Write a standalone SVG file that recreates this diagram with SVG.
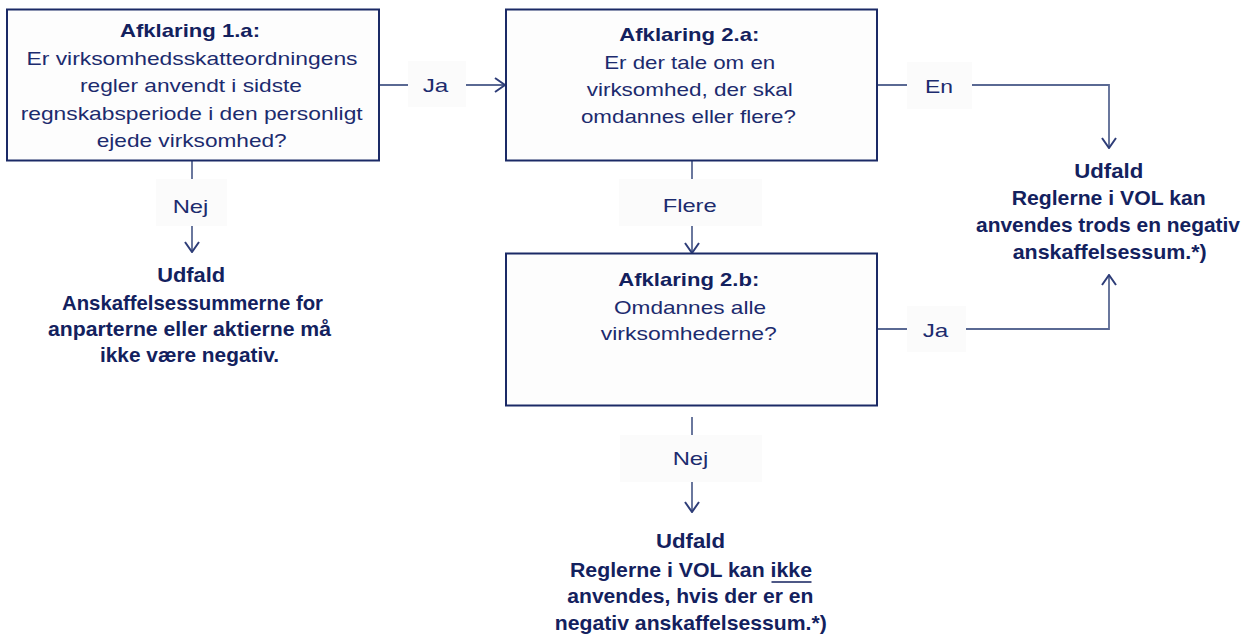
<svg xmlns="http://www.w3.org/2000/svg" width="1250" height="637" viewBox="0 0 1250 637">
  <style>
    .box { fill: #fdfdfd; stroke: #1b2a66; stroke-width: 2; }
    .lbl { fill: #fbfbfb; }
    .wire { fill: none; stroke: #5a6993; stroke-width: 1.8; }
    text { font-family: "Liberation Sans", Arial, sans-serif; text-anchor: middle; fill: #1c2b6e; }
    .t { font-size: 18.5px; }
    .h { font-size: 18.5px; font-weight: bold; fill: #13215e; }
    .o { font-size: 20.5px; font-weight: bold; fill: #13215e; }
  </style>
  <defs>
    <marker id="arr" viewBox="0 0 12 16" refX="11" refY="8" markerWidth="12" markerHeight="16" markerUnits="userSpaceOnUse" orient="auto">
      <path d="M1,1 L11,8 L1,15" fill="none" stroke="#2e3d78" stroke-width="2"/>
    </marker>
  </defs>
  <rect width="1250" height="637" fill="#ffffff"/>

  <!-- connectors with their labels -->
  <g id="connectors">
    <path class="wire" d="M379,85 H505" marker-end="url(#arr)"/>
    <path class="wire" d="M192,161 V252" marker-end="url(#arr)"/>
    <path class="wire" d="M692,161 V253" marker-end="url(#arr)"/>
    <path class="wire" d="M877,85 H1109 V148" marker-end="url(#arr)"/>
    <path class="wire" d="M877,329 H1109 V275" marker-end="url(#arr)"/>
    <path class="wire" d="M692,417 V512" marker-end="url(#arr)"/>

    <rect class="lbl" x="408" y="61" width="58" height="46"/>
    <text class="t" x="435.5" y="92" textLength="25.6" lengthAdjust="spacingAndGlyphs">Ja</text>
    <rect class="lbl" x="156" y="179" width="71" height="47"/>
    <text class="t" x="190.5" y="213" textLength="35.7" lengthAdjust="spacingAndGlyphs">Nej</text>
    <rect class="lbl" x="619" y="179" width="143" height="47"/>
    <text class="t" x="689.7" y="212" textLength="54" lengthAdjust="spacingAndGlyphs">Flere</text>
    <rect class="lbl" x="907" y="62" width="65" height="47"/>
    <text class="t" x="939" y="93" textLength="28" lengthAdjust="spacingAndGlyphs">En</text>
    <rect class="lbl" x="907" y="306" width="59" height="46"/>
    <text class="t" x="935.5" y="337" textLength="25.6" lengthAdjust="spacingAndGlyphs">Ja</text>
    <rect class="lbl" x="620" y="435" width="142" height="47"/>
    <text class="t" x="690.5" y="465" textLength="35.7" lengthAdjust="spacingAndGlyphs">Nej</text>
  </g>

  <!-- question 1.a -->
  <g id="afklaring-1a">
    <rect class="box" x="7" y="9.5" width="372" height="151"/>
    <text class="h" x="190" y="37" textLength="140" lengthAdjust="spacingAndGlyphs">Afklaring 1.a:</text>
    <text class="t" x="192" y="65" textLength="331" lengthAdjust="spacingAndGlyphs">Er virksomhedsskatteordningens</text>
    <text class="t" x="191" y="92" textLength="222" lengthAdjust="spacingAndGlyphs">regler anvendt i sidste</text>
    <text class="t" x="191.7" y="120" textLength="342" lengthAdjust="spacingAndGlyphs">regnskabsperiode i den personligt</text>
    <text class="t" x="191.7" y="147" textLength="190" lengthAdjust="spacingAndGlyphs">ejede virksomhed?</text>
  </g>

  <!-- question 2.a -->
  <g id="afklaring-2a">
    <rect class="box" x="506" y="9.5" width="371" height="151"/>
    <text class="h" x="689.3" y="41" textLength="140" lengthAdjust="spacingAndGlyphs">Afklaring 2.a:</text>
    <text class="t" x="689.7" y="69" textLength="171" lengthAdjust="spacingAndGlyphs">Er der tale om en</text>
    <text class="t" x="689.7" y="96" textLength="206" lengthAdjust="spacingAndGlyphs">virksomhed, der skal</text>
    <text class="t" x="688.4" y="123" textLength="215" lengthAdjust="spacingAndGlyphs">omdannes eller flere?</text>
  </g>

  <!-- question 2.b -->
  <g id="afklaring-2b">
    <rect class="box" x="506" y="253.5" width="371" height="152"/>
    <text class="h" x="688.8" y="286" textLength="141" lengthAdjust="spacingAndGlyphs">Afklaring 2.b:</text>
    <text class="t" x="690" y="314" textLength="152" lengthAdjust="spacingAndGlyphs">Omdannes alle</text>
    <text class="t" x="688.8" y="340" textLength="176" lengthAdjust="spacingAndGlyphs">virksomhederne?</text>
  </g>

  <!-- outcome after "Nej" on 1.a -->
  <g id="udfald-1">
    <text class="o" x="191.2" y="282" textLength="68" lengthAdjust="spacingAndGlyphs">Udfald</text>
    <text class="o" x="192.5" y="310" textLength="261" lengthAdjust="spacingAndGlyphs">Anskaffelsessummerne for</text>
    <text class="o" x="189.5" y="336" textLength="283" lengthAdjust="spacingAndGlyphs">anparterne eller aktierne må</text>
    <text class="o" x="189.5" y="362" textLength="179" lengthAdjust="spacingAndGlyphs">ikke være negativ.</text>
  </g>

  <!-- outcome after "En" / "Ja" -->
  <g id="udfald-2">
    <text class="o" x="1108.7" y="178" textLength="69" lengthAdjust="spacingAndGlyphs">Udfald</text>
    <text class="o" x="1108.7" y="205" textLength="194" lengthAdjust="spacingAndGlyphs">Reglerne i VOL kan</text>
    <text class="o" x="1108" y="232" textLength="264" lengthAdjust="spacingAndGlyphs">anvendes trods en negativ</text>
    <text class="o" x="1109.7" y="259" textLength="194" lengthAdjust="spacingAndGlyphs">anskaffelsessum.*)</text>
  </g>

  <!-- outcome after "Nej" on 2.b -->
  <g id="udfald-3">
    <text class="o" x="690.5" y="548" textLength="69" lengthAdjust="spacingAndGlyphs">Udfald</text>
    <text class="o" x="691" y="577" textLength="242" lengthAdjust="spacingAndGlyphs">Reglerne i VOL kan ikke</text>
    <line x1="771.5" y1="582" x2="811.5" y2="582" stroke="#13215e" stroke-width="1.6"/>
    <text class="o" x="690.3" y="603" textLength="246" lengthAdjust="spacingAndGlyphs">anvendes, hvis der er en</text>
    <text class="o" x="690.8" y="630" textLength="272" lengthAdjust="spacingAndGlyphs">negativ anskaffelsessum.*)</text>
  </g>
</svg>
